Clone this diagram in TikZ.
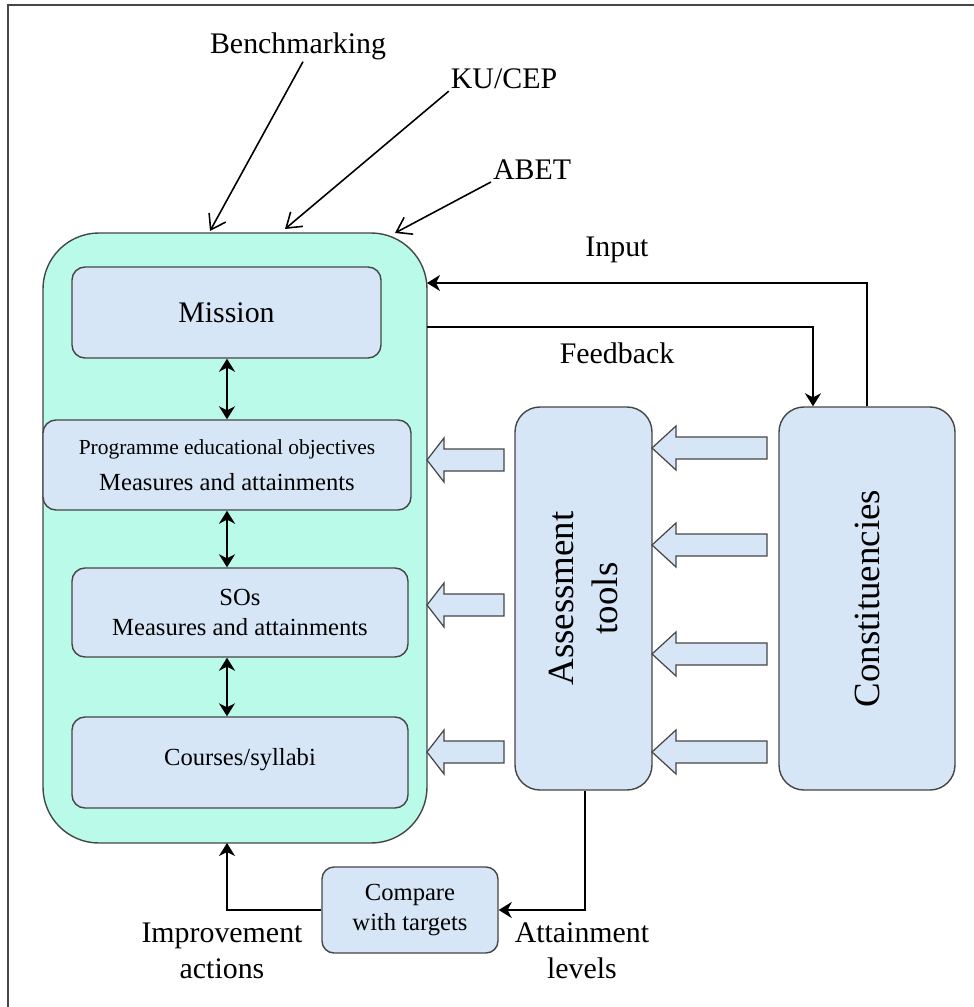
\documentclass[tikz,border=0pt]{standalone}
\usepackage{fontspec}
\setmainfont{Liberation Serif}
\usetikzlibrary{arrows.meta}

\definecolor{mintfill}{RGB}{186,250,233}
\definecolor{paleblue}{RGB}{214,230,246}
\definecolor{edgegray}{RGB}{70,70,70}

% fat hollow arrow pointing left: tip x, centre y, head length, tail x
\newcommand{\blockarrow}[4]{%
  \draw[blkarrow] (#1,#2) -- (#1+#3,#2-22) -- (#1+#3,#2-11) -- (#4,#2-11)
    -- (#4,#2+11) -- (#1+#3,#2+11) -- (#1+#3,#2+22) -- cycle;}

\begin{document}
\begin{tikzpicture}[
    x=0.2mm, y=-0.2mm,
    programme/.style={
        rectangle,
        rounded corners=11.2mm,
        minimum width=76.8mm,
        minimum height=122mm,
        draw=edgegray,
        line width=0.8pt,
        fill=mintfill
    },
    stagebox/.style={
        rectangle,
        rounded corners=2.6mm,
        draw=edgegray,
        line width=0.8pt,
        fill=paleblue,
        align=center,
        inner sep=0pt
    },
    sidebox/.style={
        rectangle,
        rounded corners=5mm,
        minimum height=76.6mm,
        draw=edgegray,
        line width=0.8pt,
        fill=paleblue
    },
    sidetext/.style={
        rotate=90,
        align=center,
        font=\fontsize{21}{25.5}\selectfont
    },
    lbltext/.style={
        align=center,
        inner sep=1pt,
        font=\fontsize{17}{20.5}\selectfont
    },
    link/.style={
        line width=1pt,
        -{Stealth[length=2.6mm,width=3.2mm,inset=0.8mm]}
    },
    twoway/.style={
        line width=1pt,
        {Stealth[length=2.6mm,width=3.2mm,inset=0.8mm]}-{Stealth[length=2.6mm,width=3.2mm,inset=0.8mm]}
    },
    inflow/.style={
        line width=0.9pt,
        -{Straight Barb[length=2.8mm,width=3.8mm]}
    },
    blkarrow/.style={
        draw=edgegray,
        line width=0.7pt,
        fill=paleblue
    }
]

\useasboundingbox (0,0) rectangle (974,1007);

% Frame
\draw[line width=1.3pt, edgegray] (8,1007) -- (8,5) -- (974,5);

% Programme panel and its stages
\node[programme] (teal) at (235,538) {};

\node[stagebox, minimum width=61.8mm, minimum height=18.2mm,
      font=\fontsize{17}{20.4}\selectfont] (mission) at (226.5,312.5) {Mission};
\node[stagebox, minimum width=73.6mm, minimum height=18mm] (peo) at (227,465)
    {{\fontsize{12.2}{14}\selectfont Programme educational objectives}\\[2.6mm]
     {\fontsize{14}{16}\selectfont Measures and attainments}};
\node[stagebox, minimum width=67.2mm, minimum height=17.8mm,
      font=\fontsize{14}{17.5}\selectfont] (sos) at (240,612.5)
    {SOs\\Measures and attainments};
\node[stagebox, minimum width=67.2mm, minimum height=18.2mm,
      font=\fontsize{14}{17}\selectfont] (courses) at (240,762.5)
    {\raisebox{2.2mm}{Courses/syllabi}};

\draw[twoway] (mission.south -| 227,0) -- (peo.north -| 227,0);
\draw[twoway] (peo.south -| 227,0) -- (sos.north -| 227,0);
\draw[twoway] (sos.south -| 227,0) -- (courses.north -| 227,0);

% Assessment tools and constituencies
\node[sidebox, minimum width=27.4mm] (assess) at (583.5,598.5) {};
\node[sidetext] at (assess.center) {Assessment\\tools};
\node[sidebox, minimum width=35.2mm] (cons) at (867,598.5) {};
\node[sidetext] at (cons.center) {Constituencies};

\blockarrow{427}{460}{17}{504}
\blockarrow{427}{605}{17}{504}
\blockarrow{427}{752}{17}{504}

\blockarrow{652}{448}{24}{767}
\blockarrow{652}{545}{24}{767}
\blockarrow{652}{654}{24}{767}
\blockarrow{652}{752}{24}{767}

% External drivers
\node[lbltext] (bench) at (298,46) {Benchmarking};
\node[lbltext] (kucep) at (504,79) {KU/CEP};
\node[lbltext] (abet) at (532,170) {ABET};

\coordinate (benchin) at (210,231);
\coordinate (kucepin) at (285,229);
\coordinate (abetin) at (395,233);

\draw[inflow] ([xshift=1mm]bench.south) -- (benchin);
\draw[inflow] (kucep.south west) -- (kucepin);
\draw[inflow] (abet.south west) -- (abetin);

% Input and feedback loop
\coordinate (inputin) at (427,283);
\coordinate (fbout) at (427,327);

\draw[link] (cons.north) |- (inputin);
\draw[link] (fbout) -| ([xshift=-10.8mm]cons.north);
\node[lbltext] (input) at (617,250) {Input};
\node[lbltext] (feedback) at (617,353) {Feedback};

% Closing the loop
\node[stagebox, minimum width=35.2mm, minimum height=17.2mm,
      rounded corners=2.4mm, font=\fontsize{14}{17}\selectfont] (compare) at (410,910)
    {Compare\\with targets};

\coordinate (improvein) at (227,843);
\draw[link] ([xshift=0.3mm]assess.south) |- (compare.east);
\draw[link] (compare.west) -| (improvein);

\node[lbltext] (improve) at (222,951) {Improvement\\actions};
\node[lbltext] (attain) at (582,951) {Attainment\\levels};

\end{tikzpicture}
\end{document}
